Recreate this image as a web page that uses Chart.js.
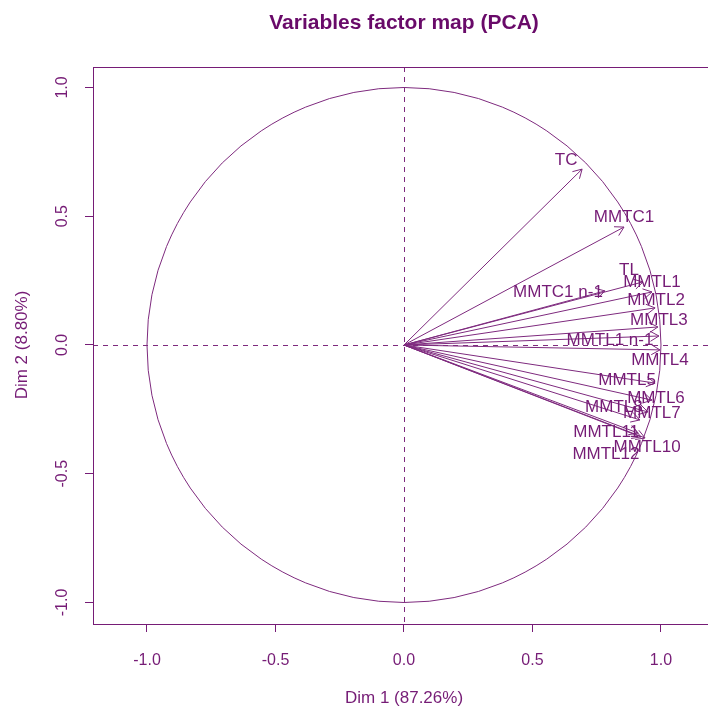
<!DOCTYPE html>
<html>
<head>
<meta charset="utf-8">
<script src="https://cdn.jsdelivr.net/npm/chart.js@4.4.1/dist/chart.umd.min.js"></script>
<style>
  html, body { margin: 0; padding: 0; background: #fff; }
</style>
</head>
<body>
<canvas id="pca-vars" width="708" height="711"></canvas>
<script>
// variable coordinates on the first two PCA dimensions
const variables = ["TC", "MMTC1", "MMTC1 n-1", "TL", "MMTL1", "MMTL2", "MMTL3", "MMTL1 n-1",
  "MMTL4", "MMTL5", "MMTL6", "MMTL7", "MMTL8", "MMTL10", "MMTL11", "MMTL12"];
const dim1 = [0.693, 0.856, 0.782, 0.930, 0.965, 0.977, 0.988, 0.992,
  0.996, 0.977, 0.965, 0.949, 0.918, 0.938, 0.911, 0.922];
const dim2 = [0.683, 0.458, 0.210, 0.245, 0.206, 0.144, 0.070, 0.035,
  -0.019, -0.148, -0.214, -0.260, -0.291, -0.361, -0.342, -0.357];
const axisTitles = ["Dim 1 (87.26%)", "Dim 2 (8.80%)"];
const axisTicks = [-1.0, -0.5, 0.0, 0.5, 1.0];
const chartTitle = "Variables factor map (PCA)";

const ink = "#761c76";
const lineInk = "#7e2a7e";
const font = "'Liberation Sans', Arial, sans-serif";

// pixel nudges for the variable names so they dodge each other
const labelNudge = {
  "TC": [-16, -9], "MMTC1": [0, -10], "MMTC1 n-1": [-47, 1], "TL": [-14, -12],
  "MMTL1": [0, -10], "MMTL2": [1, -8], "MMTL3": [1, -7], "MMTL1 n-1": [-49, 4],
  "MMTL4": [0, 10], "MMTL5": [-28, -3], "MMTL6": [4, -2], "MMTL7": [4, 1],
  "MMTL8": [-26, -13], "MMTL10": [2, 9], "MMTL11": [-32, -1], "MMTL12": [-35, 17]
};

const pcaDecor = {
  id: "pcaDecor",
  beforeDatasetsDraw(chart) {
    const { ctx, chartArea: a, scales: { x, y } } = chart;
    const cx = x.getPixelForValue(0), cy = y.getPixelForValue(0);
    ctx.save();
    ctx.strokeStyle = lineInk;
    ctx.lineWidth = 1;
    // correlation circle
    ctx.beginPath();
    ctx.ellipse(cx, cy, x.getPixelForValue(1) - cx, cy - y.getPixelForValue(1), 0, 0, Math.PI * 2);
    ctx.stroke();
    // dashed axes through the origin
    ctx.setLineDash([5, 5]);
    ctx.beginPath();
    ctx.moveTo(Math.round(cx) + 0.5, a.top);
    ctx.lineTo(Math.round(cx) + 0.5, a.bottom);
    ctx.moveTo(a.left, Math.round(cy) + 0.5);
    ctx.lineTo(a.right, Math.round(cy) + 0.5);
    ctx.stroke();
    ctx.restore();
  },
  afterDatasetsDraw(chart) {
    const { ctx } = chart;
    ctx.save();
    ctx.strokeStyle = lineInk;
    ctx.lineWidth = 1;
    chart.data.datasets.forEach((ds, i) => {
      const pts = chart.getDatasetMeta(i).data;
      const p0 = pts[0], p1 = pts[1];
      const ang = Math.atan2(p1.y - p0.y, p1.x - p0.x);
      const len = 10, spread = Math.PI / 6;
      ctx.beginPath();
      ctx.moveTo(p1.x - len * Math.cos(ang - spread), p1.y - len * Math.sin(ang - spread));
      ctx.lineTo(p1.x, p1.y);
      ctx.lineTo(p1.x - len * Math.cos(ang + spread), p1.y - len * Math.sin(ang + spread));
      ctx.stroke();
    });
    ctx.fillStyle = ink;
    ctx.font = "17px " + font;
    ctx.textAlign = "center";
    ctx.textBaseline = "middle";
    chart.data.datasets.forEach((ds, i) => {
      const tip = chart.getDatasetMeta(i).data[1];
      const n = labelNudge[ds.label] || [0, -10];
      ctx.fillText(ds.label, tip.x + n[0], tip.y + n[1]);
    });
    ctx.restore();
  },
  afterDraw(chart) {
    const { ctx, chartArea: a, scales: { x, y } } = chart;
    ctx.save();
    ctx.strokeStyle = ink;
    ctx.lineWidth = 1;
    ctx.strokeRect(Math.round(a.left) + 0.5, Math.round(a.top) + 0.5,
      Math.round(a.right - a.left), Math.round(a.bottom - a.top));

    ctx.fillStyle = "#690a69";
    ctx.font = "bold 21px " + font;
    ctx.textAlign = "center";
    ctx.textBaseline = "middle";
    ctx.fillText(chartTitle, x.getPixelForValue(0), 23);

    ctx.fillStyle = ink;
    ctx.font = "16px " + font;
    x.ticks.forEach(t => ctx.fillText(t.value.toFixed(1), x.getPixelForValue(t.value), 661));
    y.ticks.forEach(t => {
      ctx.save();
      ctx.translate(63, y.getPixelForValue(t.value));
      ctx.rotate(-Math.PI / 2);
      ctx.fillText(t.value.toFixed(1), 0, 0);
      ctx.restore();
    });

    ctx.font = "17px " + font;
    ctx.fillText(axisTitles[0], x.getPixelForValue(0), 698);
    ctx.save();
    ctx.translate(22, y.getPixelForValue(0));
    ctx.rotate(-Math.PI / 2);
    ctx.fillText(axisTitles[1], 0, 0);
    ctx.restore();
    ctx.restore();
  }
};

const axisOpts = (min, max) => ({
  type: "linear",
  min: min,
  max: max,
  afterBuildTicks: (scale) => { scale.ticks = axisTicks.map(v => ({ value: v })); },
  ticks: { display: false },
  grid: { drawOnChartArea: false, drawTicks: true, tickLength: 8, color: ink, lineWidth: 1 },
  border: { display: true, color: ink, width: 1 }
});

new Chart(document.getElementById("pca-vars"), {
  type: "scatter",
  data: {
    datasets: variables.map((name, i) => ({
      label: name,
      data: [{ x: 0, y: 0 }, { x: dim1[i], y: dim2[i] }],
      showLine: true,
      borderColor: lineInk,
      borderWidth: 1,
      pointRadius: 0,
      pointHoverRadius: 0
    }))
  },
  options: {
    responsive: false,
    animation: false,
    layout: { padding: { top: 67, right: 0, bottom: 0, left: 0 } },
    plugins: { legend: { display: false }, tooltip: { enabled: false }, title: { display: false } },
    scales: {
      x: Object.assign(axisOpts(-1.2101, 1.1829), { afterFit: (s) => { s.height = 87; } }),
      y: Object.assign(axisOpts(-1.0835, 1.0796), { afterFit: (s) => { s.width = 93; } })
    }
  },
  plugins: [pcaDecor]
});
</script>
</body>
</html>
